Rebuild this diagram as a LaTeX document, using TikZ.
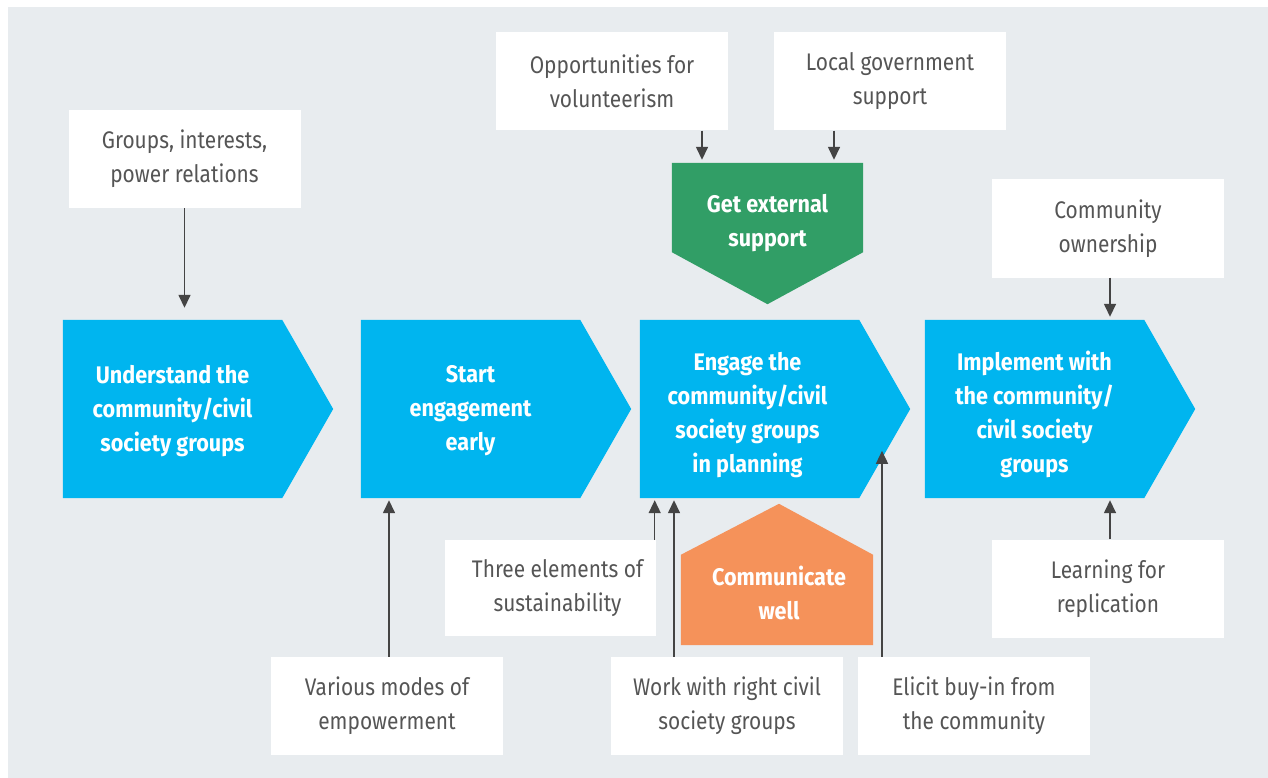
\documentclass[tikz,border=0pt]{standalone}
\usepackage{fontspec}
\setmainfont{Fira Sans}[FakeStretch=0.87, BoldFeatures={FakeStretch=0.9}]
\usetikzlibrary{arrows.meta,backgrounds}
\definecolor{bg}{HTML}{E8ECEF}
\definecolor{cblue}{HTML}{00B5EF}
\definecolor{cgreen}{HTML}{319E66}
\definecolor{corange}{HTML}{F5925A}
\definecolor{arrowgray}{HTML}{444444}
\definecolor{txtgray}{HTML}{555555}
\begin{document}
\begin{tikzpicture}[x=1pt,y=-1pt,
  wbox/.style={fill=white, minimum width=232pt, minimum height=98pt, inner sep=0pt, align=center, text=txtgray, font=\fontsize{24}{34}\selectfont},
  chev/.style={minimum width=219pt, minimum height=178pt, inner sep=0pt},
  btext/.style={inner sep=0pt, align=center, text=white, font=\bfseries\fontsize{24}{34}\selectfont},
  arr/.style={draw=arrowgray, line width=1.5pt, -{Triangle[width=12pt,length=13pt]}},
]
\useasboundingbox (0,0) rectangle (1268,778);

% chevrons
\node[chev] (c1) at (172.5,409) {};
\node[chev] (c2) at (470.5,409) {};
\node[chev] (c3) at (749.5,409) {};
\node[chev] (c4) at (1034.5,409) {};
\node[btext] (t1) at ([yshift=-2pt]c1.center) {Understand the\\community/civil\\society groups};
\node[btext] (t2) at ([yshift=-2pt]c2.center) {Start\\engagement\\early};
\node[btext] (t3) at ([xshift=-2pt,yshift=-6pt]c3.center) {Engage the\\community/civil\\society groups\\in planning};
\node[btext] (t4) at ([yshift=-5pt]c4.center) {Implement with\\the community/\\civil society\\groups};

% green and orange shapes
\node[minimum width=191pt, minimum height=89pt, inner sep=0pt] (green) at (767.5,207.5) {};
\node[btext] (gtxt) at ([yshift=-16pt]green.center) {Get external\\support};
\node[minimum width=192pt, minimum height=90pt, inner sep=0pt] (orange) at (777,600) {};
\node[btext] (otxt) at ([xshift=2pt,yshift=7pt]orange.center) {Communicate\\well};

\begin{scope}[on background layer]
  \fill[bg] (8,7) rectangle (1268,778);
  \foreach \c in {c1,c2,c3,c4}{
    \fill[cblue] (\c.north west) -- (\c.north east) -- ([xshift=51pt]\c.east) -- (\c.south east) -- (\c.south west) -- cycle;
  }
  \fill[cgreen] (green.north west) -- (green.north east) -- (green.south east) -- ([yshift=-52pt]green.south) -- (green.south west) -- cycle;
  \fill[corange] (orange.south west) -- (orange.north west) -- ([xshift=2pt,yshift=51pt]orange.north) -- (orange.north east) -- (orange.south east) -- cycle;
\end{scope}

% white boxes
\node[wbox] (grp) at (184.5,159) {Groups, interests,\\power relations};
\node[wbox] (vol) at (612,81.5) {Opportunities for\\volunteerism};
\node[wbox] (loc) at (890,81.5) {Local government\\support};
\node[wbox] (own) at (1108,228.5) {Community\\ownership};
\node[wbox, minimum width=211pt, minimum height=96pt] (three) at (550.5,588) {\hspace*{14pt}Three elements of\\\hspace*{14pt}sustainability};
\node[wbox] (var) at (387,706) {Various modes of\\empowerment};
\node[wbox] (work) at (727,706) {Work with right civil\\society groups};
\node[wbox] (eli) at (974,706) {Elicit buy-in from\\the community};
\node[wbox] (learn) at (1108,588.5) {Learning for\\replication};

% arrows
\draw[arr, shorten >=12pt] (grp.south) -- (grp.south |- c1.north);
\draw[arr, shorten >=3pt] ([xshift=90pt]vol.south) -- ([xshift=90pt]vol.south |- green.north);
\draw[arr, shorten >=3pt] ([xshift=-56pt]loc.south) -- ([xshift=-56pt]loc.south |- green.north);
\draw[arr, shorten >=3pt] ([xshift=2pt]own.south) -- ([xshift=2pt]own.south |- c4.north);
\draw[arr, shorten >=2pt] ([xshift=2pt]var.north) -- ([xshift=2pt]var.north |- c2.south);
\draw[arr, shorten >=2pt] ([xshift=-1.5pt]three.north east) -- ([xshift=-1.5pt]three.north east |- c3.south);
\draw[arr, shorten >=2pt] ([xshift=-53pt]work.north) -- ([xshift=-53pt]work.north |- c3.south);
\draw[arr] ([xshift=-92pt]eli.north) -- ++(0,-206);
\draw[arr, shorten >=2pt] ([xshift=2pt]learn.north) -- ([xshift=2pt]learn.north |- c4.south);
\end{tikzpicture}
\end{document}
